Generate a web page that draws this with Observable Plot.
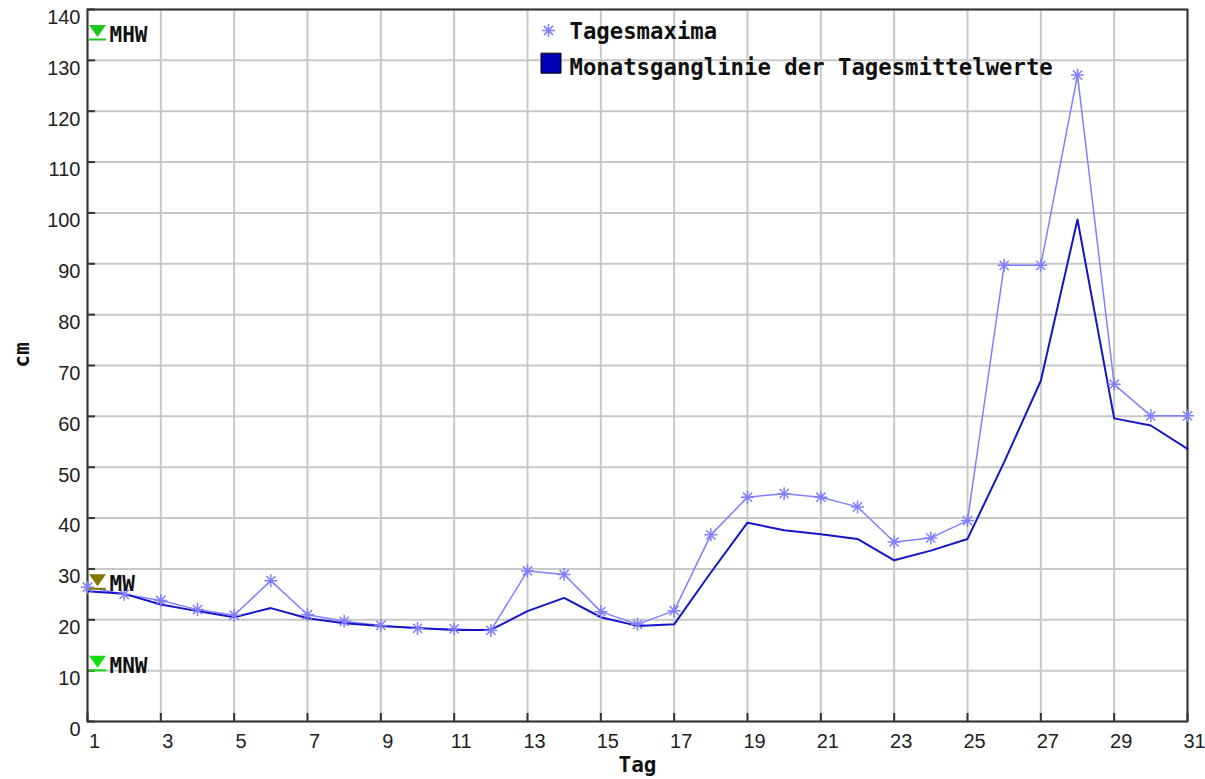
<!DOCTYPE html>
<html>
<head>
<meta charset="utf-8">
<script src="https://cdn.jsdelivr.net/npm/d3@7"></script>
<script src="https://cdn.jsdelivr.net/npm/@observablehq/plot@0.6"></script>
<style>
  html, body { margin: 0; padding: 0; background: #fff; }
  #chart { width: 1205px; height: 779px; }
</style>
</head>
<body>
<div id="chart"></div>
<script>
// ---- data ----
const days = [1,2,3,4,5,6,7,8,9,10,11,12,13,14,15,16,17,18,19,20,21,22,23,24,25,26,27,28,29,30,31];
const maxima = [26.4,25.0,23.8,22.0,20.9,27.7,21.0,19.7,18.9,18.3,18.2,17.9,29.6,28.9,21.6,19.1,21.8,36.7,44.1,44.8,44.1,42.2,35.3,36.1,39.5,89.7,89.7,127.1,66.3,60.1,60.1];
const means  = [25.6,25.1,23.0,21.7,20.5,22.3,20.3,19.3,18.8,18.4,18.0,18.0,21.7,24.3,20.5,18.8,19.1,29.3,39.1,37.6,36.8,35.9,31.7,33.6,35.9,51.0,67.0,98.7,59.6,58.2,53.6];
const seriesNames = ["Tagesmaxima", "Monatsganglinie der Tagesmittelwerte"];
const levelNames = ["MHW", "MW", "MNW"];
const levelValues = [134, 26, 10];
const levelColors = ["#1ec81e", "#847800", "#12e012"];
const xTicks = [1,3,5,7,9,11,13,15,17,19,21,23,25,27,29,31];
const yTicks = [0,10,20,30,40,50,60,70,80,90,100,110,120,130,140];
const xLabel = "Tag";
const yLabel = "cm";

const rows = days.map((d, i) => ({day: d, max: maxima[i], mean: means[i]}));
const levels = levelNames.map((n, i) => ({name: n, value: levelValues[i], color: levelColors[i]}));

const mono = "DejaVu Sans Mono";
const maxColor = "#8080ff";
const meanColor = "#1414c8";

// 8-armed asterisk
const asterisk8 = {
  draw(ctx, size) {
    const r = Math.sqrt(size / Math.PI);
    const d = r * Math.SQRT1_2;
    ctx.moveTo(-r, 0); ctx.lineTo(r, 0);
    ctx.moveTo(0, -r); ctx.lineTo(0, r);
    ctx.moveTo(-d, -d); ctx.lineTo(d, d);
    ctx.moveTo(-d, d); ctx.lineTo(d, -d);
  }
};
// water-level gauge marker: down triangle with underline
const gauge = {
  draw(ctx) {
    ctx.moveTo(-8.5, -15); ctx.lineTo(8.5, -15); ctx.lineTo(0, -3); ctx.closePath();
    ctx.moveTo(-8.5, -1.5); ctx.lineTo(8.5, -1.5); ctx.lineTo(8.5, 0.5); ctx.lineTo(-8.5, 0.5); ctx.closePath();
  }
};

const chart = Plot.plot({
  width: 1205,
  height: 779,
  marginLeft: 87,
  marginRight: 18,
  marginTop: 9,
  marginBottom: 58,
  style: {fontFamily: "Liberation Sans", fontSize: "20px", color: "#222", background: "#fff"},
  x: {domain: [1, 31]},
  y: {domain: [0, 140]},
  color: {type: "identity"},
  marks: [
    Plot.gridX({ticks: xTicks, stroke: "#c8c8c8", strokeOpacity: 1, strokeWidth: 2}),
    Plot.gridY({ticks: yTicks, stroke: "#c8c8c8", strokeOpacity: 1, strokeWidth: 2}),
    // inward tick marks
    Plot.axisX({ticks: xTicks, tickSize: 8, dy: -8, tickFormat: () => "", label: null, stroke: "#333", strokeWidth: 2}),
    Plot.axisY({ticks: yTicks, tickSize: 8, dx: 8, tickFormat: () => "", label: null, stroke: "#333", strokeWidth: 2}),
    // tick labels
    Plot.axisX({ticks: xTicks, tickSize: 0, tickPadding: 12, dx: 7, label: null, fill: "#222"}),
    Plot.axisY({ticks: yTicks, tickSize: 0, tickPadding: 7, dy: 8, label: null, fill: "#222"}),
    Plot.frame({stroke: "#333", strokeWidth: 2}),
    // series
    Plot.line(rows, {x: "day", y: "max", stroke: maxColor, strokeWidth: 1.5}),
    Plot.line(rows, {x: "day", y: "mean", stroke: meanColor, strokeWidth: 2}),
    Plot.dot(rows, {x: "day", y: "max", symbol: asterisk8, r: 6.5, stroke: maxColor, strokeWidth: 1.5, fill: "none"}),
    // level markers
    Plot.dot(levels, {x: days[0], y: "value", symbol: gauge, r: 1, fill: "color", stroke: "none", dx: 10}),
    Plot.text(levels, {x: days[0], y: "value", text: "name", textAnchor: "start", lineAnchor: "bottom", dx: 22, dy: 2, fontFamily: mono, fontWeight: "bold", fontSize: 21, fill: "#111"}),
    // axis titles
    Plot.text([yLabel], {x: null, y: null, text: d => d, frameAnchor: "left", dx: -65, dy: 2, rotate: -90, fontFamily: mono, fontWeight: "bold", fontSize: 21, fill: "#111"}),
    Plot.text([xLabel], {x: null, y: null, text: d => d, frameAnchor: "bottom", dy: 44, lineAnchor: "middle", fontFamily: mono, fontWeight: "bold", fontSize: 21, fill: "#111"}),
    // legend
    Plot.dot([seriesNames[0]], {x: null, y: null, frameAnchor: "top-left", dx: 461, dy: 21, symbol: asterisk8, r: 6.5, stroke: maxColor, strokeWidth: 1.5, fill: "none"}),
    Plot.text([seriesNames[0]], {x: null, y: null, text: d => d, frameAnchor: "top-left", dx: 482, dy: 22, textAnchor: "start", lineAnchor: "middle", fontFamily: mono, fontWeight: "bold", fontSize: 22.3, fill: "#111"}),
    Plot.dot([seriesNames[1]], {x: null, y: null, frameAnchor: "top-left", dx: 463.5, dy: 53.7, symbol: "square", r: 11.28, fill: "#0000b4", stroke: "#000", strokeWidth: 1}),
    Plot.text([seriesNames[1]], {x: null, y: null, text: d => d, frameAnchor: "top-left", dx: 482, dy: 58, textAnchor: "start", lineAnchor: "middle", fontFamily: mono, fontWeight: "bold", fontSize: 22.3, fill: "#111"})
  ]
});
document.getElementById("chart").append(chart);
</script>
</body>
</html>
